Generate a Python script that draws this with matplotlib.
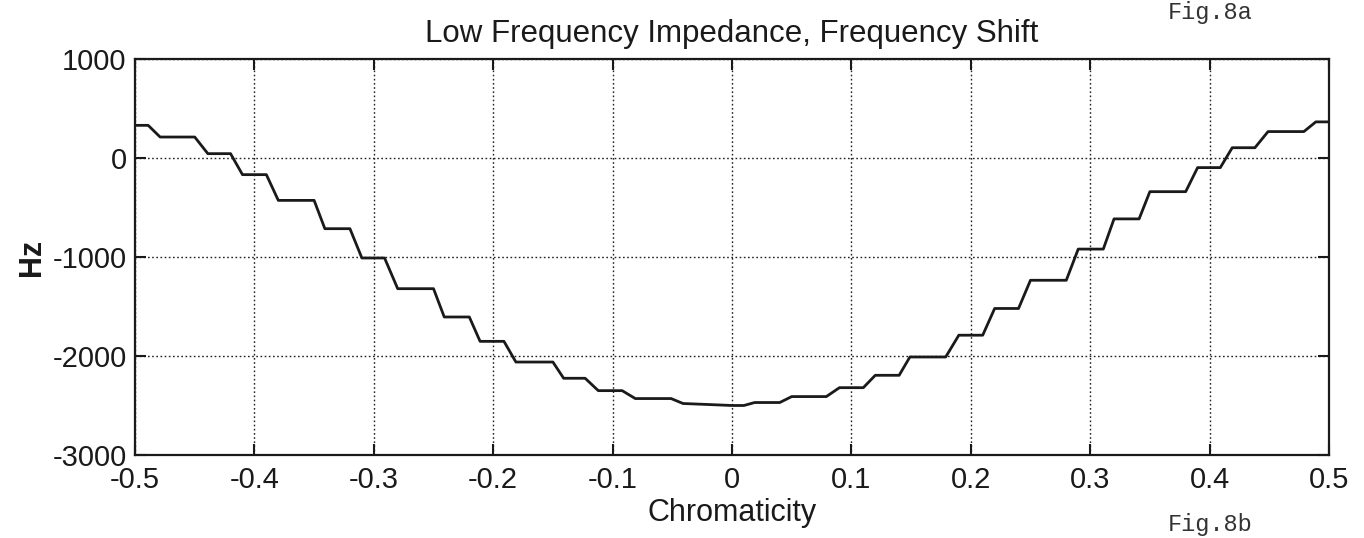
import matplotlib
matplotlib.use("Agg")
import matplotlib.pyplot as plt

plt.rcParams['font.family'] = ['Liberation Sans', 'DejaVu Sans']
plt.rcParams['axes.unicode_minus'] = False

# staircase vertices (chromaticity, Hz)
chroma = [-0.500, -0.489, -0.479, -0.450, -0.439, -0.420, -0.410, -0.390, -0.380, -0.350,
          -0.341, -0.320, -0.310, -0.291, -0.280, -0.250, -0.241, -0.220, -0.211, -0.191,
          -0.181, -0.150, -0.141, -0.123, -0.112, -0.092, -0.081, -0.051, -0.041, -0.020,
          0.000, 0.010, 0.019, 0.040, 0.050, 0.079, 0.090, 0.110, 0.120, 0.140,
          0.149, 0.179, 0.190, 0.210, 0.220, 0.240, 0.250, 0.280, 0.290, 0.311,
          0.320, 0.341, 0.350, 0.380, 0.390, 0.409, 0.419, 0.438, 0.449, 0.479,
          0.489, 0.500]
shift_hz = [330, 330, 212, 212, 44, 44, -168, -168, -428, -428,
            -714, -714, -1010, -1010, -1320, -1320, -1606, -1606, -1852, -1852,
            -2061, -2061, -2225, -2225, -2350, -2350, -2430, -2430, -2480, -2490,
            -2500, -2500, -2470, -2470, -2410, -2410, -2320, -2320, -2195, -2195,
            -2010, -2010, -1790, -1790, -1520, -1520, -1235, -1235, -920, -920,
            -615, -615, -340, -340, -97, -97, 104, 104, 267, 267,
            365, 365]

x_ticks = [-0.5, -0.4, -0.3, -0.2, -0.1, 0, 0.1, 0.2, 0.3, 0.4, 0.5]
x_labels = ['-0.5', '-0.4', '-0.3', '-0.2', '-0.1', '0', '0.1', '0.2', '0.3', '0.4', '0.5']
y_ticks = [-3000, -2000, -1000, 0, 1000]

fig = plt.figure(figsize=(13.64, 5.38), dpi=100)
ax = fig.add_axes([0.099, 0.1543, 0.8753, 0.736])

ax.plot(chroma, shift_hz, color='#1a1a1a', linewidth=2.0)

ax.set_xlim(-0.5, 0.5)
ax.set_ylim(-3000, 1000)
ax.set_xticks(x_ticks)
ax.set_xticklabels(x_labels)
ax.set_yticks(y_ticks)

ax.grid(True, color='#222222', linestyle=(0, (1.2, 1.8)), linewidth=1.0)
ax.tick_params(direction='in', length=8, width=1.5, top=True, right=True,
               labelsize=21, colors='#1a1a1a')
ax.tick_params(axis='x', pad=8)
ax.tick_params(axis='y', pad=6)
for s in ax.spines.values():
    s.set_linewidth(1.6)
    s.set_color('#1a1a1a')

ax.set_xlabel('Chromaticity', fontsize=22, color='#1a1a1a', labelpad=3)
ax.set_ylabel('Hz', fontsize=22, fontweight='bold', color='#1a1a1a', labelpad=4)
ax.set_title('Low Frequency Impedance, Frequency Shift', fontsize=22.5,
             color='#1a1a1a', pad=12)

# page captions in the corners (partly cut in the scan)
fig.text(1252 / 1364, 1 - 1 / 538, 'Fig.8a', family='Liberation Mono', fontsize=17,
         ha='right', va='top', color='#333333')
fig.text(1252 / 1364, 2 / 538, 'Fig.8b', family='Liberation Mono', fontsize=17,
         ha='right', va='bottom', color='#333333')

fig.savefig('out.png', dpi=100)
